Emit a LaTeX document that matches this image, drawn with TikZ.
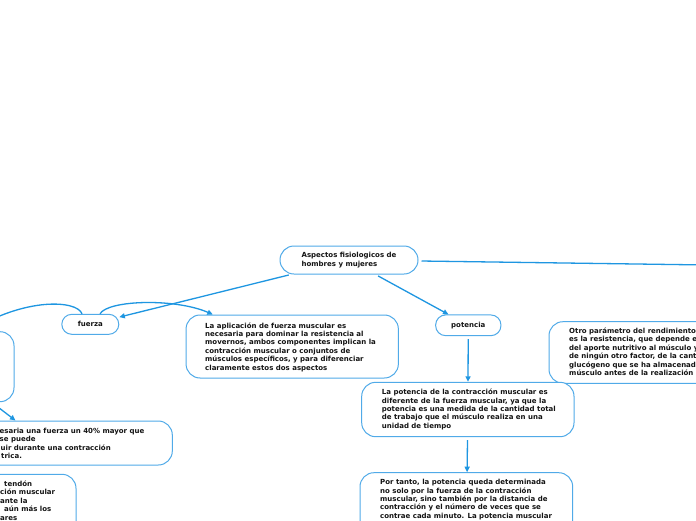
\documentclass[tikz,border=0pt]{standalone}
\usepackage{fontspec}
\setmainfont{DejaVu Sans}
\usetikzlibrary{arrows.meta}
\definecolor{linec}{RGB}{30,150,225}
\definecolor{boxc}{RGB}{80,170,232}
\definecolor{txtc}{RGB}{20,20,20}
\begin{document}
\begin{tikzpicture}[x=1pt,y=-1pt,
  box/.style={draw=boxc,line width=1pt,rounded corners=14pt,inner sep=0pt,fill=white},
  smallbox/.style={box,rounded corners=10pt,font=\bfseries\fontsize{7}{8.4}\selectfont,text=txtc},
  txt/.style={font=\bfseries\fontsize{7}{8.4}\selectfont,align=left,inner sep=0pt,anchor=west,text=txtc},
  conn/.style={draw=linec,line width=1.3pt},
  arr/.style={-{Triangle[length=5.5pt,width=5pt]}}]
\useasboundingbox (0,0) rectangle (696,520);
\clip (0,0) rectangle (696,520);
\fill[white] (0,0) rectangle (696,520);

% boxes
\node[box,minimum width=138pt,minimum height=28pt,align=left,font=\bfseries\fontsize{7}{8.4}\selectfont,text=txtc] (root) at (349,260) {Aspectos fisiologicos de\\hombres y mujeres};
\node[smallbox,minimum width=57pt,minimum height=20pt] (fuerza) at (90.3,324.3) {fuerza};
\node[smallbox,minimum width=65.3pt,minimum height=20.7pt] (potencia) at (468.3,325.3) {potencia};

\node[box,minimum width=212.3pt,minimum height=63pt] (aplbox) at (292.2,346.5) {};
\node[txt] (apltext) at (205,347) {La aplicación de fuerza muscular es\\necesaria para dominar la resistencia al\\movernos, ambos componentes implican la\\contracción muscular o conjuntos de\\músculos específicos, y para diferenciar\\claramente estos dos aspectos};

\node[box,minimum width=251pt,minimum height=61.6pt] (otrobox) at (674.5,352.5) {};
\node[txt] (otrotext) at (569,351.7) {Otro parámetro del rendimiento\\es la resistencia, que depende en\\del aporte nutritivo al músculo y\\de ningún otro factor, de la canti\\glucógeno que se ha almacenado\\músculo antes de la realización d};

\node[box,minimum width=212.3pt,minimum height=54.4pt] (pcbox) at (467.85,409.5) {};
\node[txt] (pctext) at (381.7,409.5) {La potencia de la contracción muscular es\\diferente de la fuerza muscular, ya que la\\potencia es una medida de la cantidad total\\de trabajo que el músculo realiza en una\\unidad de tiempo};

\node[box,minimum width=212.7pt,minimum height=127.3pt] (ptbox) at (466.35,536.35) {};
\node[txt] (pttext) at (380,499.5) {Por tanto, la potencia queda determinada\\no solo por la fuerza de la contracción\\muscular, sino también por la distancia de\\contracción y el número de veces que se\\contrae cada minuto. La potencia muscular};

\node[box,minimum width=164pt,minimum height=70pt] (lb1) at (-68,366.7) {};

\node[box,minimum width=322.3pt,minimum height=44pt] (lb2) at (11.15,443) {};
\node[txt] (lb2text) at (-0.5,443.5) {esaria una fuerza un 40\% mayor que\\se puede\\\hspace{1pt}uir durante una contracción\\\hspace{1.5pt}trica.};

\node[box,minimum width=226pt,minimum height=125.7pt] (lb3) at (-37,537.15) {};
\node[txt] (lb3text) at (0,500.5) {\hspace{4pt}tendón\\ción muscular\\ante la\\\hspace{4pt}aún más los\\ares};

% connectors
\coordinate (offR) at (780,266);
\draw[conn,shorten <=3pt] (root) -- (offR);
\draw[conn,arr,shorten <=2pt] (root) -- (fuerza);
\draw[conn,arr,shorten <=3pt] (root) -- (potencia);
\draw[conn,arr] ([xshift=9.7pt]fuerza.north) .. controls (108,300) and (175,298) .. ([xshift=27.3pt]aplbox.north west);
\draw[conn] ([xshift=-8.3pt]fuerza.north) .. controls (77,300) and (25,297) .. ([xshift=38pt]lb1.north);
\draw[conn,arr] ([shift={(-19,3)}]lb1.south east) -- ([xshift=-157.3pt]lb2.north east);
\draw[conn,arr,shorten <=3pt] (potencia) -- (pcbox);
\draw[conn,arr,shorten <=3pt] (pcbox) -- (ptbox);
\end{tikzpicture}
\end{document}
